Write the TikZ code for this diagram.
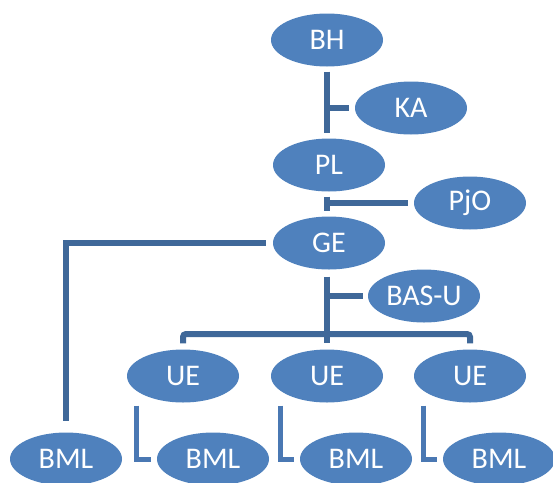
\documentclass[tikz,border=0pt]{standalone}
\usepackage{fontspec}
\setmainfont{Carlito}
\usetikzlibrary{shapes.geometric}
\definecolor{fillblue}{HTML}{4F81BD}
\definecolor{linkblue}{HTML}{3F6899}
\definecolor{leafblue}{HTML}{4A78B3}
\tikzset{
  unit/.style={ellipse, fill=fillblue, draw=none, text=white, inner sep=0pt,
    minimum width=112pt, minimum height=53pt, font=\fontsize{30}{32}\selectfont},
  link/.style={draw=linkblue, line width=6pt},
  leaflink/.style={draw=leafblue, line width=5pt},
}

\begin{document}
\begin{tikzpicture}[x=1pt,y=-1pt]
  \useasboundingbox (0,0) rectangle (553,482);
  % top chain
  \node[unit] (bh)  at (327,40)  {BH};
  \node[unit] (ka)  at (411,108) {KA};
  \node[unit] (pl)  at (329,165) {PL};
  \node[unit] (pjo) at (470,203) {PjO};
  \node[unit] (ge)  at (329,243) {GE};
  \node[unit] (bas) at (424,296) {BAS-U};
  % units and their BML
  \node[unit] (ue1) at (183,376) {UE};
  \node[unit] (ue2) at (327,376) {UE};
  \node[unit] (ue3) at (470,376) {UE};
  \node[unit] (bml0) at (66,459)  {BML};
  \node[unit] (bml1) at (213,459) {BML};
  \node[unit] (bml2) at (356,459) {BML};
  \node[unit] (bml3) at (499,459) {BML};

  \coordinate (trunk) at (327,0);
  \draw[link] ([yshift=-5pt]trunk |- bh.south) -- ([yshift=5pt]trunk |- pl.north);
  \draw[link] (trunk |- ka.west) -- ([xshift=-6pt]ka.west);
  \draw[link] ([yshift=-5pt]trunk |- pl.south) -- ([yshift=5pt]trunk |- ge.north);
  \draw[link] (trunk |- pjo.west) -- ([xshift=-6pt]pjo.west);
  \draw[link] ([xshift=-7pt]ge.west) -| ([yshift=11pt]bml0.north);
  \draw[link] ([yshift=-7pt]trunk |- ge.south) -- ([yshift=6pt]ue2.north);
  \draw[link] (trunk |- bas.west) -- ([xshift=-5pt]bas.west);
  \coordinate (bar) at (0,334);
  \draw[link, rounded corners=3pt] ([yshift=6pt]ue1.north) -- (ue1 |- bar)
    -- (ue3 |- bar) -- ([yshift=6pt]ue3.north);
  % UE to BML
  \foreach \u/\b in {ue1/bml1, ue2/bml2, ue3/bml3}
    \draw[leaflink] ([xshift=-47pt,yshift=-3pt]\u.south) |- ([xshift=-6pt]\b.west);
\end{tikzpicture}
\end{document}
